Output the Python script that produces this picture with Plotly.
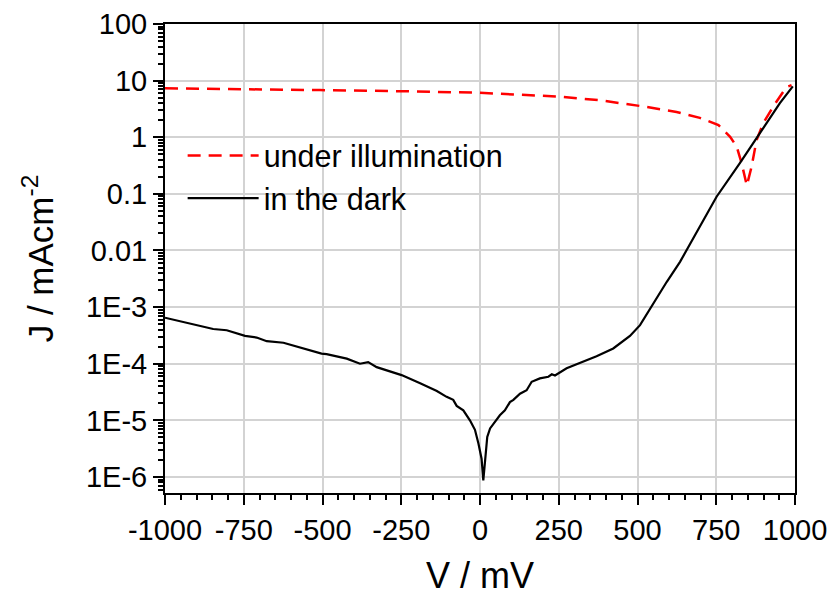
import plotly.graph_objects as go

# Dark current (black solid)
dark_v = [-1000, -990, -910, -847, -804, -746, -709, -677, -624, -582, -540, -503, -487, -455,
          -423, -381, -355, -328, -290, -249, -190, -137, -106, -85, -74, -53, -32, -16, -5, 5,
          10.5, 18, 23, 32, 48, 63, 79, 95, 106, 127, 148, 164, 190, 217, 228, 238, 275, 323,
          370, 423, 476, 508, 550, 593, 635, 680, 751, 825, 889, 952, 993]
dark_j = [6.5e-4, 6.3e-4, 5.0e-4, 4.1e-4, 3.9e-4, 3.1e-4, 2.9e-4, 2.5e-4, 2.35e-4, 2.0e-4,
          1.74e-4, 1.51e-4, 1.48e-4, 1.35e-4, 1.23e-4, 1.0e-4, 1.07e-4, 8.7e-5, 7.4e-5, 6.3e-5,
          4.5e-5, 3.3e-5, 2.6e-5, 2.3e-5, 1.8e-5, 1.5e-5, 1.0e-5, 6.8e-6, 3.9e-6, 2.1e-6,
          8.7e-7, 2.3e-6, 5.1e-6, 7.2e-6, 9.3e-6, 1.23e-5, 1.5e-5, 2.1e-5, 2.3e-5, 2.95e-5,
          3.4e-5, 4.8e-5, 5.5e-5, 5.9e-5, 6.5e-5, 6.2e-5, 8.3e-5, 1.07e-4, 1.35e-4, 1.86e-4,
          3.1e-4, 4.8e-4, 1.17e-3, 2.8e-3, 6.3e-3, 1.78e-2, 8.9e-2, 0.35, 1.17, 4.0, 7.9]

# Under illumination (red dashed)
light_v = [-1000, -750, -508, -250, 0, 254, 317, 381, 518, 624, 698, 757, 794, 815, 831, 847,
           862, 878, 899, 931, 973, 989]
light_j = [7.3, 7.1, 6.8, 6.5, 6.1, 5.2, 4.9, 4.5, 3.5, 2.8, 2.2, 1.64, 1.02, 0.68, 0.34, 0.14,
           0.30, 0.89, 1.76, 3.5, 7.7, 8.3]

x_tickvals = [-1000, -750, -500, -250, 0, 250, 500, 750, 1000]
x_ticktext = ["-1000", "-750", "-500", "-250", "0", "250", "500", "750", "1000"]
y_tickvals = [100, 10, 1, 0.1, 0.01, 1e-3, 1e-4, 1e-5, 1e-6]
y_ticktext = ["100", "10", "1", "0.1", "0.01", "1E-3", "1E-4", "1E-5", "1E-6"]

FONT = "Liberation Sans, Arial, sans-serif"

fig = go.Figure()
fig.add_trace(go.Scatter(x=light_v, y=light_j, mode="lines", name="under illumination",
                         line=dict(color="#ff0000", width=2.5, dash="13px,8px")))
fig.add_trace(go.Scatter(x=dark_v, y=dark_j, mode="lines", name="in the dark",
                         line=dict(color="#000000", width=2.2)))

fig.update_layout(
    width=832, height=588,
    margin=dict(l=157, r=45, t=16, b=103, autoexpand=False),
    paper_bgcolor="white", plot_bgcolor="white",
    font=dict(family=FONT, size=29, color="black"),
    showlegend=True,
    legend=dict(x=0.028, y=0.776, xanchor="left", yanchor="top",
                bgcolor="rgba(0,0,0,0)", font=dict(size=30.5, family=FONT),
                itemwidth=71, tracegroupgap=0),
    xaxis=dict(
        range=[-1000, 1000], tickvals=x_tickvals, ticktext=x_ticktext, automargin=False,
        ticks="outside", ticklen=10, tickwidth=2,
        tickcolor="black", showline=True, linecolor="black", linewidth=2, mirror=True,
        showgrid=True, gridcolor="#d3d3d3", gridwidth=1.5, zeroline=False,
        minor=dict(ticks="outside", ticklen=5, tickwidth=1.5, tickcolor="black", dtick=50,
                   showgrid=False),
        title=dict(text="V / mV", font=dict(size=36, family=FONT), standoff=22),
        tickfont=dict(size=29, family=FONT),
    ),
    yaxis=dict(
        type="log", range=[-6.283, 2], tickvals=y_tickvals, ticktext=y_ticktext,
        automargin=False,
        ticks="outside", ticklen=10, tickwidth=2, tickcolor="black",
        showline=True, linecolor="black", linewidth=2, mirror=True,
        showgrid=True, gridcolor="#d3d3d3", gridwidth=1.5, zeroline=False,
        minor=dict(ticks="outside", ticklen=5, tickwidth=1.5, tickcolor="black", dtick="D1",
                   showgrid=False),
        title=dict(text="J / mAcm<sup>-2</sup>", font=dict(size=35, family=FONT), standoff=22),
        tickfont=dict(size=29, family=FONT),
    ),
)

fig.write_html("out.html")
